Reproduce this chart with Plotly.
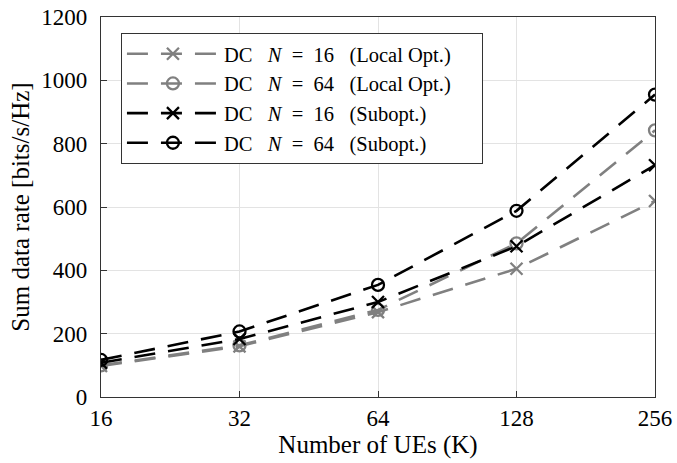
import plotly.graph_objects as go

ues = [16, 32, 64, 128, 256]
local_n16 = [98, 160, 268, 405, 619]
local_n64 = [100, 163, 275, 485, 842]
subopt_n16 = [108, 183, 300, 476, 732]
subopt_n64 = [117, 207, 354, 588, 955]
y_ticks = [0, 200, 400, 600, 800, 1000, 1200]

GRAY = "#808080"
BLACK = "#000000"
FONT = "Liberation Serif"
S = "\u00a0"

def label(n, kind, pad):
    return f"DC{S*3}<i>N</i>{S*2}={S*2}{n}{S*3}({kind}){S*pad}"

series = [
    (label(16, "Local Opt.", 5), local_n16, GRAY, "x-thin-open"),
    (label(64, "Local Opt.", 5), local_n64, GRAY, "circle-open"),
    (label(16, "Subopt.", 0), subopt_n16, BLACK, "x-thin-open"),
    (label(64, "Subopt.", 0), subopt_n64, BLACK, "circle-open"),
]

fig = go.Figure()
for name, vals, col, sym in series:
    fig.add_trace(go.Scatter(
        x=ues, y=vals, name=name, mode="lines+markers",
        line=dict(color=col, width=2.6, dash="21px,13px"),
        marker=dict(symbol=sym, size=12, color=col, line=dict(color=col, width=2.3)),
    ))

axis_common = dict(
    showline=True, linecolor="#333333", linewidth=1.3, mirror=True,
    ticks="inside", ticklen=6, tickcolor="#333333",
    showgrid=True, gridcolor="#e3e3e3", gridwidth=1,
    tickfont=dict(family=FONT, size=23, color="black"),
    zeroline=False,
)

fig.update_xaxes(type="log", range=[1.20412, 2.40824], tickvals=ues,
                 ticktext=[str(u) for u in ues], ticklabelstandoff=0,
                 title=dict(text="Number of UEs (K)", font=dict(family=FONT, size=25, color="black"), standoff=0),
                 **axis_common)
fig.update_yaxes(range=[0, 1200], tickvals=y_ticks, ticklabelstandoff=8,
                 title=dict(text="Sum data rate [bits/s/Hz]", font=dict(family=FONT, size=25, color="black"), standoff=4),
                 **axis_common)

fig.update_layout(
    width=677, height=463,
    margin=dict(l=101, r=22, t=17, b=66, autoexpand=False),
    plot_bgcolor="white", paper_bgcolor="white",
    font=dict(family=FONT, size=22, color="black"),
    legend=dict(x=0.036, y=0.958, xanchor="left", yanchor="top",
                bgcolor="white", bordercolor="#333333", borderwidth=1,
                font=dict(family=FONT, size=20.5, color="black"),
                itemwidth=92, tracegroupgap=0),
    showlegend=True,
)

fig.write_html("out.html", config={"displayModeBar": False},
               post_script="document.body.style.margin='0';document.body.style.overflow='hidden';")
